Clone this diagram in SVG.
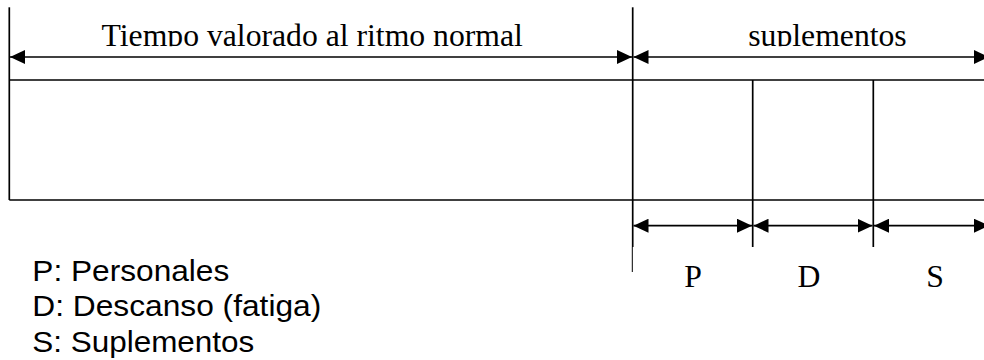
<svg xmlns="http://www.w3.org/2000/svg" width="984" height="360" viewBox="0 0 984 360">
<style>
.ln{stroke:#000;stroke-width:1.7;fill:none}
.thin{stroke:#000;stroke-width:1;fill:none}
.ser{font-family:"Liberation Serif","Times New Roman",serif;font-size:31.7px;fill:#000}
.sans{font-family:"Liberation Sans",Arial,sans-serif;font-size:30px;fill:#000}
</style>
<defs>
<marker id="ah" viewBox="0 0 15 14" refX="15" refY="7" markerWidth="15" markerHeight="14" markerUnits="userSpaceOnUse" orient="auto-start-reverse">
<path d="M0,0 L15,7 L0,14 Z" fill="#000"/>
</marker>
<clipPath id="cl"><rect x="0" y="0" width="984" height="46.3"/></clipPath>
</defs>
<rect width="984" height="360" fill="#fff"/>
<g id="frame">
<line class="ln" x1="9.3" y1="7.3" x2="9.3" y2="200"/>
<line class="ln" x1="9.3" y1="80" x2="984" y2="80"/>
<line class="ln" x1="9.3" y1="200" x2="984" y2="200"/>
<line class="ln" x1="632.7" y1="7.3" x2="632.7" y2="247"/>
<line class="thin" x1="632.3" y1="247" x2="632.3" y2="272"/>
<line class="ln" x1="752.7" y1="80" x2="752.7" y2="247"/>
<line class="ln" x1="873.3" y1="80" x2="873.3" y2="247"/>
</g>
<g id="connectors">
<line class="ln" x1="10" y1="57" x2="632" y2="57" marker-start="url(#ah)" marker-end="url(#ah)"/>
<line class="ln" x1="633.5" y1="57" x2="989" y2="57" marker-start="url(#ah)" marker-end="url(#ah)"/>
<line class="ln" x1="633.5" y1="225.7" x2="752" y2="225.7" marker-start="url(#ah)" marker-end="url(#ah)"/>
<line class="ln" x1="753.5" y1="225.7" x2="872.5" y2="225.7" marker-start="url(#ah)" marker-end="url(#ah)"/>
<line class="ln" x1="874" y1="225.7" x2="989" y2="225.7" marker-start="url(#ah)" marker-end="url(#ah)"/>
</g>
<g id="labels-top" clip-path="url(#cl)">
<text class="ser" x="312.2" y="46" text-anchor="middle">Tiempo valorado al ritmo normal</text>
<text class="ser" x="827.5" y="46" text-anchor="middle">suplementos</text>
</g>
<g id="labels-bottom">
<text class="ser" x="693" y="286.7" text-anchor="middle">P</text>
<text class="ser" x="809" y="286.7" text-anchor="middle">D</text>
<text class="ser" x="935" y="286.7" text-anchor="middle">S</text>
</g>
<g id="legend">
<text class="sans" x="32.3" y="281" textLength="197" lengthAdjust="spacingAndGlyphs">P: Personales</text>
<text class="sans" x="32.3" y="316.3" textLength="289" lengthAdjust="spacingAndGlyphs">D: Descanso (fatiga)</text>
<text class="sans" x="32.3" y="351.5" textLength="222" lengthAdjust="spacingAndGlyphs">S: Suplementos</text>
</g>
</svg>
